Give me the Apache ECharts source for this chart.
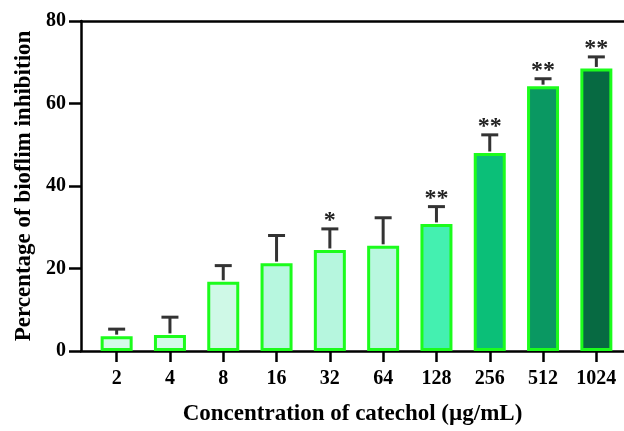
<!DOCTYPE html>
<html>
<head>
<meta charset="utf-8">
<script src="https://cdn.jsdelivr.net/npm/echarts@6/dist/echarts.min.js"></script>
<style>html,body{margin:0;padding:0;background:#fff}#main{width:624px;height:431px}</style>
</head>
<body>
<div id="main"></div>
<script>
var categories = ['2', '4', '8', '16', '32', '64', '128', '256', '512', '1024'];
var means = [3.6, 3.9, 16.8, 21.3, 24.5, 25.5, 30.8, 48.0, 64.2, 68.5];
var errs = [1.7, 4.3, 3.9, 6.7, 5.1, 6.8, 4.2, 4.4, 1.8, 2.8];
var marks = ['', '', '', '', '*', '', '**', '**', '**', '**'];
var fills = ['#d4faea', '#d4faea', '#cff9e7', '#b7f7df', '#b6f6de', '#b8f7df', '#44f0b0', '#0bbf78', '#0a9862', '#076a42'];
var yTicks = [0, 20, 40, 60, 80];

var font = '"Liberation Serif", "Times New Roman", serif';
var myChart = echarts.init(document.getElementById('main'));

var option = {
    backgroundColor: '#ffffff',
    animation: false,
    grid: [
        {left: 90, right: 1, top: 21, bottom: 80},
        {left: 81, right: 0, top: 21, bottom: 80}
    ],
    xAxis: [
        {
            type: 'category', gridIndex: 0, data: categories,
            axisLine: {show: false},
            axisTick: {show: true, alignWithLabel: true, length: 11, lineStyle: {color: '#000', width: 2.5}},
            axisLabel: {color: '#000', fontFamily: font, fontWeight: 'bold', fontSize: 20, margin: 18},
            splitLine: {show: false}
        },
        {
            type: 'value', gridIndex: 1, min: 0, max: 1, position: 'bottom',
            name: 'Concentration of catechol (\u00b5g/mL)', nameLocation: 'middle', nameGap: 52,
            nameTextStyle: {color: '#000', fontFamily: font, fontWeight: 'bold', fontSize: 23},
            axisLine: {show: true, lineStyle: {color: '#000', width: 2.5}},
            axisTick: {show: false}, axisLabel: {show: false}, splitLine: {show: false}
        },
        {
            type: 'value', gridIndex: 1, min: 0, max: 1, position: 'top',
            axisLine: {show: true, lineStyle: {color: '#000', width: 2.5}},
            axisTick: {show: false}, axisLabel: {show: false}, splitLine: {show: false}
        }
    ],
    yAxis: [
        {
            type: 'value', gridIndex: 0, min: 0, max: 80, interval: 20, show: false
        },
        {
            type: 'value', gridIndex: 1, min: yTicks[0], max: yTicks[yTicks.length - 1], interval: 20,
            name: 'Percentage of bioflim inhibition', nameLocation: 'middle', nameGap: 42,
            nameTextStyle: {color: '#000', fontFamily: font, fontWeight: 'bold', fontSize: 23},
            axisLine: {show: true, lineStyle: {color: '#000', width: 2.5}},
            axisTick: {show: true, length: 12, lineStyle: {color: '#000', width: 2.5}},
            axisLabel: {color: '#000', fontFamily: font, fontWeight: 'bold', fontSize: 20, margin: 15},
            splitLine: {show: false}
        }
    ],
    series: [
        {
            type: 'bar', xAxisIndex: 0, yAxisIndex: 0, barWidth: 32,
            data: means.map(function (v, i) {
                return {value: v, itemStyle: {color: fills[i]}};
            }),
            itemStyle: {borderColor: '#1cfc1c', borderWidth: 3}
        },
        {
            type: 'custom', xAxisIndex: 0, yAxisIndex: 0, z: 5,
            data: means.map(function (v, i) { return [i, v, v + errs[i]]; }),
            renderItem: function (params, api) {
                var i = api.value(0);
                var base = api.coord([i, api.value(1)]);
                var top = api.coord([i, api.value(2)]);
                var hw = 8.5;
                var style = {stroke: '#333', lineWidth: 3};
                var children = [
                    {type: 'line', shape: {x1: base[0], y1: base[1] - 1.5, x2: top[0], y2: top[1]}, style: style},
                    {type: 'line', shape: {x1: top[0] - hw, y1: top[1], x2: top[0] + hw, y2: top[1]}, style: style}
                ];
                var m = marks[i];
                if (m) {
                    children.push({
                        type: 'text',
                        style: {
                            text: m, x: top[0], y: top[1] + 4,
                            align: 'center', verticalAlign: 'bottom',
                            font: 'bold 24px ' + font, fill: '#222'
                        }
                    });
                }
                return {type: 'group', children: children};
            }
        }
    ]
};
myChart.setOption(option);
</script>
</body>
</html>
